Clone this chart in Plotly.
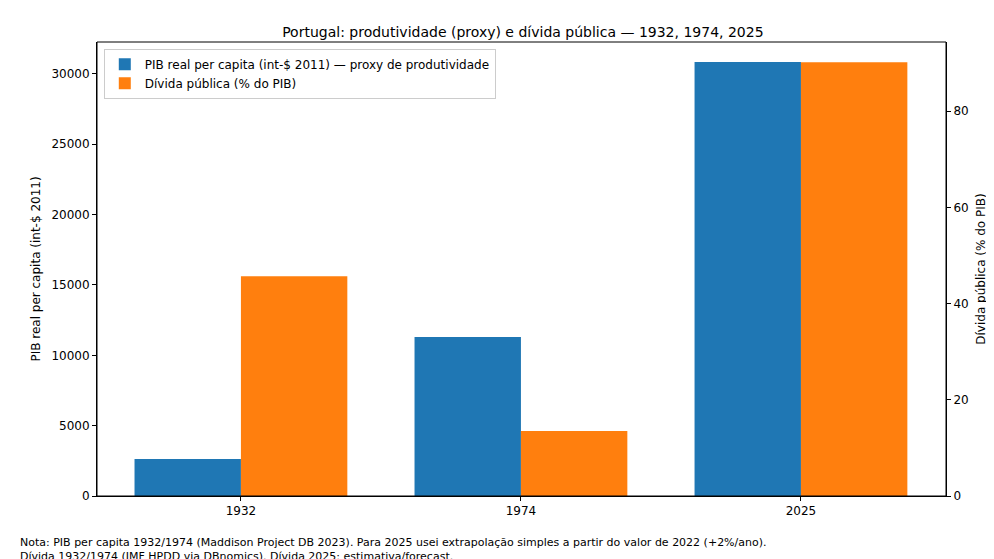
import plotly.graph_objects as go

years = ["1932", "1974", "2025"]
gdp_pc = [2630, 11300, 30850]
debt = [45.7, 13.5, 90.2]

xs = list(range(len(years)))
fig = go.Figure()
fig.add_trace(go.Bar(x=xs, y=gdp_pc, width=0.38, offset=-0.38, marker_color="#1f77b4", marker_line_width=0,
                     name="PIB real per capita (int-$ 2011) — proxy de produtividade", yaxis="y"))
fig.add_trace(go.Bar(x=xs, y=debt, width=0.38, offset=0, marker_color="#ff7f0e", marker_line_width=0,
                     name="Dívida pública (% do PIB)", yaxis="y2"))

ax = dict(showline=True, linecolor="black", mirror=False, ticks="outside", ticklen=4,
          tickcolor="black", showgrid=False, zeroline=False, tickfont=dict(size=12), automargin=False)
fig.update_layout(
    width=994, height=559, barmode="overlay", plot_bgcolor="white", paper_bgcolor="white",
    font=dict(family="DejaVu Sans", color="black", size=12),
    margin=dict(l=89, r=56, t=34, b=71, autoexpand=False),
    title=dict(text="Portugal: produtividade (proxy) e dívida pública — 1932, 1974, 2025",
               x=0.518, xanchor="center", y=0.965, font=dict(size=14)),
    xaxis=dict(**ax, tickvals=xs, ticktext=years, range=[-0.514, 2.518]),
    yaxis=dict(**ax, range=[0, 32270], dtick=5000, tickformat="d",
               title=dict(text="PIB real per capita (int-$ 2011)", font=dict(size=12), standoff=8)),
    yaxis2=dict(**ax, overlaying="y", side="right", range=[0, 94.4], dtick=20,
                title=dict(text="Dívida pública (% do PIB)", font=dict(size=12), standoff=8)),
    legend=dict(x=0.008, y=0.985, xanchor="left", yanchor="top", bgcolor="rgba(255,255,255,0.8)",
                bordercolor="#cccccc", borderwidth=1, font=dict(size=12)),
    annotations=[dict(text="Nota: PIB per capita 1932/1974 (Maddison Project DB 2023). Para 2025 usei extrapolação simples a partir do valor de 2022 (+2%/ano).<br>Dívida 1932/1974 (IMF HPDD via DBnomics). Dívida 2025: estimativa/forecast.",
                      xref="paper", yref="paper", x=-0.093, y=-0.084, xanchor="left", yanchor="top",
                      showarrow=False, align="left", font=dict(size=11))],
)
fig.add_shape(type="rect", xref="paper", yref="paper", x0=0, y0=0, x1=1, y1=1,
              line=dict(color="black", width=1))
fig.write_html("out.html")
